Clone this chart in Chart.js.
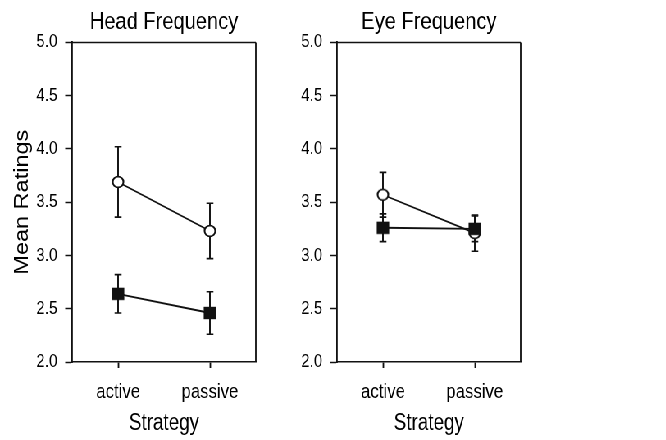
<!DOCTYPE html>
<html>
<head>
<meta charset="utf-8">
<title>Head and Eye Frequency</title>
<script src="https://cdn.jsdelivr.net/npm/chart.js@4/dist/chart.umd.min.js"></script>
<style>
  html, body { margin: 0; padding: 0; background: #fff; }
  #page { width: 666px; height: 440px; overflow: hidden; }
  /* the source figure has narrow lettering, so the drawing is squeezed sideways */
  #wrap { position: relative; width: 812px; height: 440px; transform: scaleX(0.82); transform-origin: 0 0; }
  canvas { position: absolute; top: 0; }
  #headChart { left: 0; }
  #eyeChart { left: 366px; }
</style>
</head>
<body>
<div id="page">
<div id="wrap">
  <canvas id="headChart" width="400" height="440"></canvas>
  <canvas id="eyeChart" width="314" height="440"></canvas>
</div>
</div>
<script>
// Data (means and +/- error)
const strategies = ["active", "passive"];

const headOpen = [3.69, 3.23];
const headOpenErr = [0.33, 0.26];
const headFilled = [2.64, 2.46];
const headFilledErr = [0.18, 0.2];

const eyeOpen = [3.57, 3.21];
const eyeOpenErr = [0.21, 0.17];
const eyeFilled = [3.26, 3.25];
const eyeFilledErr = [0.13, 0.12];

const yTicks = [2.0, 2.5, 3.0, 3.5, 4.0, 4.5, 5.0];

const SQUEEZE = 0.82;
const INK = "#111";
const TEXT = "#000";
const SANS = "'Liberation Sans', Arial, Helvetica, sans-serif";

// Marker images are pre-widened so they come out round / square after the squeeze
function makeMarker(kind, size, lineWidth) {
  const c = document.createElement("canvas");
  c.width = Math.ceil((size + 2) / SQUEEZE);
  c.height = size + 2;
  const g = c.getContext("2d");
  g.scale(1 / SQUEEZE, 1);
  const cx = (c.width * SQUEEZE) / 2;
  const cy = c.height / 2;
  if (kind === "circle") {
    g.beginPath();
    g.arc(cx, cy, size / 2 - lineWidth / 2, 0, Math.PI * 2);
    g.fillStyle = "#fff";
    g.fill();
    g.lineWidth = lineWidth;
    g.strokeStyle = INK;
    g.stroke();
  } else {
    g.fillStyle = INK;
    g.fillRect(cx - size / 2, cy - size / 2, size, size);
  }
  return c;
}

const openMarker = makeMarker("circle", 12.4, 1.7);
const filledMarker = makeMarker("square", 12.4, 0);

// Error bars under the markers, plus the closed frame round the plot
const errorBars = {
  id: "errorBars",
  beforeDatasetsDraw(chart) {
    const ctx = chart.ctx;
    const y = chart.scales.y;
    const a = chart.chartArea;
    const cap = 3.5 / SQUEEZE;

    ctx.save();
    ctx.strokeStyle = INK;
    ctx.lineWidth = 1.5;
    ctx.beginPath();
    ctx.moveTo(a.left, a.top);
    ctx.lineTo(a.right, a.top);
    ctx.stroke();
    ctx.lineWidth = 1.5 / SQUEEZE;
    ctx.beginPath();
    ctx.moveTo(a.right, a.top);
    ctx.lineTo(a.right, a.bottom);
    ctx.stroke();

    chart.data.datasets.forEach((ds, i) => {
      const meta = chart.getDatasetMeta(i);
      meta.data.forEach((pt, j) => {
        const top = y.getPixelForValue(ds.data[j] + ds.errors[j]);
        const bot = y.getPixelForValue(ds.data[j] - ds.errors[j]);
        ctx.lineWidth = 1.6 / SQUEEZE;
        ctx.beginPath();
        ctx.moveTo(pt.x, top);
        ctx.lineTo(pt.x, bot);
        ctx.stroke();
        ctx.lineWidth = 1.6;
        ctx.beginPath();
        ctx.moveTo(pt.x - cap, top);
        ctx.lineTo(pt.x + cap, top);
        ctx.moveTo(pt.x - cap, bot);
        ctx.lineTo(pt.x + cap, bot);
        ctx.stroke();
      });
    });
    ctx.restore();
  },
};

/**
 * Build one panel
 * @param {string} canvasId - Canvas element ID
 * @param {string} title - Panel title
 * @param {Object} opts - yWidth (axis band on both sides), yTitle
 */
function makePanel(canvasId, title, openVals, openErr, filledVals, filledErr, opts) {
  const ctx = document.getElementById(canvasId).getContext("2d");

  const datasets = [
    {
      label: "filled",
      data: filledVals,
      errors: filledErr,
      borderColor: INK,
      borderWidth: 1.8,
      pointStyle: filledMarker,
      order: 0,
    },
    {
      label: "open",
      data: openVals,
      errors: openErr,
      borderColor: INK,
      borderWidth: 1.8,
      pointStyle: openMarker,
      order: 1,
    },
  ];

  return new Chart(ctx, {
    type: "line",
    data: { labels: strategies, datasets: datasets },
    plugins: [errorBars],
    options: {
      responsive: false,
      animation: false,
      devicePixelRatio: 1,
      layout: { padding: 0 },
      plugins: {
        legend: { display: false },
        tooltip: { enabled: false },
        title: {
          display: true,
          text: title,
          color: TEXT,
          font: { family: SANS, size: 24.5, weight: "normal" },
          padding: { top: 8, bottom: 5 },
        },
      },
      scales: {
        x: {
          type: "category",
          offset: true,
          afterFit: (scale) => { scale.height = 78; },
          grid: {
            display: true,
            drawOnChartArea: false,
            drawTicks: true,
            tickLength: 6,
            tickWidth: 1.5 / SQUEEZE,
            tickColor: INK,
          },
          border: { display: true, color: INK, width: 1.5 },
          ticks: {
            color: TEXT,
            padding: 12,
            font: { family: SANS, size: 20.5 },
          },
          title: {
            display: true,
            text: "Strategy",
            color: TEXT,
            font: { family: SANS, size: 23 },
            padding: { top: 0, bottom: 3 },
          },
        },
        y: {
          min: yTicks[0],
          max: yTicks[yTicks.length - 1],
          afterFit: (scale) => { scale.width = opts.yWidth; },
          afterBuildTicks: (scale) => {
            scale.ticks = yTicks.map((v) => ({ value: v }));
          },
          grid: {
            display: true,
            drawOnChartArea: false,
            drawTicks: true,
            tickLength: 8.5,
            tickWidth: 1.5,
            tickColor: INK,
          },
          border: { display: true, color: INK, width: 1.5 / SQUEEZE },
          ticks: {
            color: TEXT,
            padding: 9.5,
            font: { family: SANS, size: 18.5 },
            callback: (value) => Number(value).toFixed(1),
          },
          title: {
            display: opts.yTitle ? true : false,
            text: opts.yTitle || "",
            color: TEXT,
            font: { family: SANS, size: 23.5 },
            padding: { top: 13, bottom: 0 },
          },
        },
        // empty band on the right so the title centres over the plot
        yPad: {
          position: "right",
          display: true,
          afterFit: (scale) => { scale.width = opts.yWidth; },
          grid: { display: false },
          border: { display: false },
          ticks: { display: false },
        },
      },
    },
  });
}

makePanel("headChart", "Head Frequency", headOpen, headOpenErr, headFilled, headFilledErr, {
  yWidth: 88,
  yTitle: "Mean Ratings",
});

makePanel("eyeChart", "Eye Frequency", eyeOpen, eyeOpenErr, eyeFilled, eyeFilledErr, {
  yWidth: 45,
});
</script>
</body>
</html>
